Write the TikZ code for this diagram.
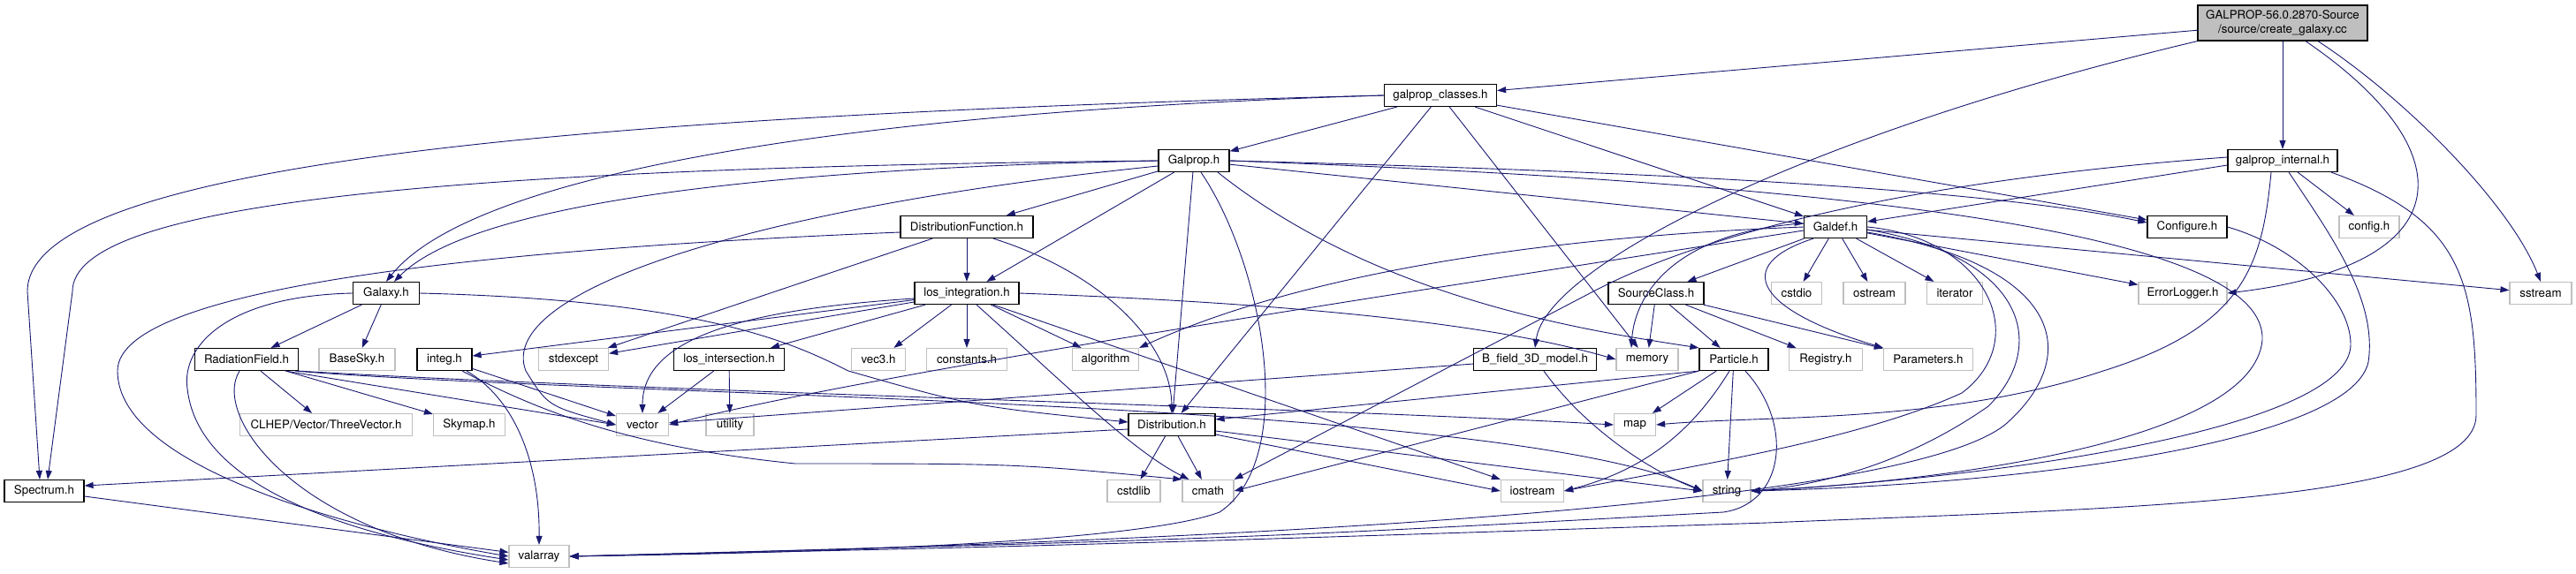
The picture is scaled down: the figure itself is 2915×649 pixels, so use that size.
\documentclass[tikz,border=0pt]{standalone}
\usepackage{fontspec}
\setmainfont{TeX Gyre Heros}
\usetikzlibrary{arrows.meta}
\definecolor{edgeblue}{RGB}{25,25,112}
\definecolor{sysgray}{RGB}{191,191,191}
\tikzset{
  hdr/.style={rectangle, draw=black, line width=1.2pt, minimum height=25pt,
    inner sep=0pt, font=\fontsize{13.3}{15.3}\selectfont},
  sys/.style={hdr, draw=sysgray},
  srcfile/.style={hdr, fill=sysgray, minimum height=40pt, align=center},
  dep/.style={-{Triangle[length=10pt,width=7pt]}, color=edgeblue, line width=0.9pt}
}

\begin{document}
\begin{tikzpicture}[x=1pt, y=-1pt]
  \useasboundingbox (0,0) rectangle (2915,649);

  % row 0-2
  \node[srcfile, minimum width=192pt] (root) at (2583,26) {GALPROP-56.0.2870-Source\\/source/create\_galaxy.cc};
  \node[hdr, minimum width=127pt] (gc) at (1630,108) {galprop\_classes.h};
  \node[hdr, minimum width=80pt] (gp) at (1351,182) {Galprop.h};
  \node[hdr, minimum width=124pt] (gi) at (2583,182) {galprop\_internal.h};
  \node[hdr, minimum width=150pt] (df) at (1094,257) {DistributionFunction.h};
  \node[hdr, minimum width=90pt] (cfg) at (2475,257) {Configure.h};
  \node[sys, minimum width=68pt] (cfgh) at (2681,257) {config.h};
  \node[hdr, minimum width=71pt] (gd) at (2077,257) {Galdef.h};

  % row 3
  \node[hdr, minimum width=75pt] (ga) at (437,332) {Galaxy.h};
  \node[hdr, minimum width=118pt] (li) at (1094,332) {los\_integration.h};
  \node[hdr, minimum width=108pt] (sc) at (1874,332) {SourceClass.h};
  \node[sys, minimum width=57pt] (cstdio) at (2033,332) {cstdio};
  \node[sys, minimum width=70pt] (ostream) at (2121,332) {ostream};
  \node[sys, minimum width=63pt] (iterator) at (2212,332) {iterator};
  \node[sys, minimum width=100pt] (el) at (2470,332) {ErrorLogger.h};
  \node[sys, minimum width=70pt] (sstream) at (2875,332) {sstream};

  % row 4
  \node[hdr, minimum width=117pt] (rf) at (279,407) {RadiationField.h};
  \node[sys, minimum width=86pt] (bs) at (404,407) {BaseSky.h};
  \node[hdr, minimum width=62pt] (ig) at (503,407) {integ.h};
  \node[sys, minimum width=79pt] (stdexcept) at (649,407) {stdexcept};
  \node[hdr, minimum width=125pt] (lx) at (825,407) {los\_intersection.h};
  \node[sys, minimum width=61pt] (vec3) at (994,407) {vec3.h};
  \node[sys, minimum width=91pt] (const) at (1094,407) {constants.h};
  \node[sys, minimum width=75pt] (algo) at (1251,407) {algorithm};
  \node[hdr, minimum width=139pt] (bf) at (1737,407) {B\_field\_3D\_model.h};
  \node[sys, minimum width=70pt] (mem) at (1864,407) {memory};
  \node[hdr, minimum width=78pt] (pa) at (1962,407) {Particle.h};
  \node[sys, minimum width=83pt] (reg) at (2066,407) {Registry.h};
  \node[sys, minimum width=101pt] (par) at (2182,407) {Parameters.h};

  % row 5
  \node[sys, minimum width=195pt] (clhep) at (369,481) {CLHEP/Vector/ThreeVector.h};
  \node[sys, minimum width=81pt] (sky) at (531,481) {Skymap.h};
  \node[sys, minimum width=59pt] (vec) at (727,481) {vector};
  \node[sys, minimum width=54pt] (util) at (826,481) {utility};
  \node[hdr, minimum width=98pt] (di) at (1326,481) {Distribution.h};
  \node[sys, minimum width=47pt] (map) at (1850,481) {map};

  % row 6-7
  \node[hdr, minimum width=90pt] (sp) at (50,556) {Spectrum.h};
  \node[sys, minimum width=60pt] (cstdlib) at (1283,556) {cstdlib};
  \node[sys, minimum width=58pt] (cmath) at (1367,556) {cmath};
  \node[sys, minimum width=71pt] (ios) at (1734,556) {iostream};
  \node[sys, minimum width=54pt] (str) at (1954,556) {string};
  \node[sys, minimum width=68pt] (va) at (610,630) {valarray};

  % create_galaxy.cc
  \draw[dep] (root) -- (gc);
  \draw[dep] (root.south west) .. controls (2050,150) and (1750,300) .. (bf.north);
  \draw[dep] (root) -- (gi);
  \draw[dep] ([xshift=26pt]root.south) .. controls (2790,170) and (2790,300) .. (el.east);
  \draw[dep] ([xshift=40pt]root.south) .. controls (2720,110) and (2840,230) .. (sstream.north);

  % galprop_classes.h
  \draw[dep] (gc) -- (gp);
  \draw[dep] (gc.west) .. controls (1000,125) and (540,190) .. (ga.north);
  \draw[dep] (gc.west) .. controls (700,130) and (31,180) .. (31,330) -- ([xshift=-5pt]sp.north);
  \draw[dep] (gc) -- (di);
  \draw[dep] (gc) -- (mem);
  \draw[dep] (gc) -- (gd);
  \draw[dep] (gc) -- (cfg);

  % Galprop.h
  \draw[dep] (gp.west) .. controls (900,190) and (540,225) .. ([xshift=9pt]ga.north);
  \draw[dep] (gp.west) .. controls (500,190) and (82,230) .. (82,330) -- ([xshift=4pt]sp.north);
  \draw[dep] (gp) -- (df);
  \draw[dep] (gp) -- (li);
  \draw[dep] ([yshift=-6pt]gp.west) .. controls (850,235) and (560,330) .. (595,420) .. controls (620,460) .. (vec.west);
  \draw[dep] (gp) -- (di);
  \draw[dep] ([xshift=8pt]gp.south) .. controls (1430,300) and (1470,520) .. (1380,580) .. controls (1300,610) and (1000,625) .. (va.east);
  \draw[dep] ([xshift=27pt]gp.south) .. controls (1560,340) and (1800,375) .. (pa.north west);
  \draw[dep] (gp) -- (gd);
  \draw[dep] (gp.east) .. controls (1900,195) and (2250,215) .. ([yshift=5pt]cfg.west);
  \draw[dep] (gp.east) .. controls (2150,210) and (2565,270) .. (2560,385) .. controls (2550,500) and (2200,545) .. (str.east);

  % galprop_internal.h
  \draw[dep] ([yshift=-5pt]gi.west) -- ([yshift=6pt]gd.east);
  \draw[dep] ([yshift=4pt]gi.west) .. controls (2150,205) and (1923,267) .. (1803,330) -- (cmath.north east);
  \draw[dep] (gi) -- (cfgh);
  \draw[dep] ([xshift=-13pt]gi.south) .. controls (2560,300) and (2540,370) .. (2380,420) .. controls (2200,480) and (2000,470) .. (map.east);
  \draw[dep] ([xshift=7pt]gi.south) .. controls (2640,270) and (2690,340) .. (2680,410) .. controls (2660,500) and (2300,548) .. (str.east);
  \draw[dep] ([xshift=55pt]gi.south) .. controls (2790,250) and (2802,320) .. (2802,470) .. controls (2802,570) and (2400,575) .. (2000,592) .. controls (1200,618) .. (va.east);

  % Configure.h
  \draw[dep] (cfg.east) .. controls (2600,280) and (2660,340) .. (2660,390) .. controls (2660,480) and (2300,538) .. (str.east);

  % Galdef.h
  \draw[dep] (gd) -- (sc);
  \draw[dep] (gd) -- (cstdio);
  \draw[dep] (gd) -- (ostream);
  \draw[dep] (gd) -- (iterator);
  \draw[dep] (gd) -- (el);
  \draw[dep] (gd) -- (sstream);
  \draw[dep] ([xshift=-25pt]gd.south) .. controls (1960,300) and (1985,350) .. (par.north west);
  \draw[dep] ([yshift=4pt]gd.west) .. controls (1900,262) and (1850,330) .. ([xshift=-18pt]mem.north);
  \draw[dep] (gd.west) .. controls (1700,270) and (1450,320) .. (algo.north east);
  \draw[dep] ([yshift=-4pt]gd.west) .. controls (1600,330) and (1000,420) .. (vec.east);
  \draw[dep] (gd.east) .. controls (2250,270) and (2300,385) .. (2220,445) .. controls (2100,500) and (1900,530) .. (ios.east);
  \draw[dep] ([yshift=-3pt]gd.east) .. controls (2290,290) and (2320,390) .. (2250,460) .. controls (2150,530) and (2050,550) .. (str.east);
  \draw[dep] ([yshift=-6pt]gd.east) .. controls (2330,300) and (2360,400) .. (2270,480) .. controls (2150,580) and (1300,615) .. (va.east);

  % SourceClass.h
  \draw[dep] (sc) -- (mem);
  \draw[dep] (sc) -- (pa);
  \draw[dep] (sc) -- (reg);
  \draw[dep] (sc) -- (par);

  % B_field_3D_model.h
  \draw[dep] (bf) -- (vec);
  \draw[dep] ([xshift=10pt]bf.south) .. controls (1790,480) and (1860,530) .. (str.west);

  % Particle.h
  \draw[dep] (pa) -- (map);
  \draw[dep] (pa) -- (str);
  \draw[dep] ([xshift=-5pt]pa.south) .. controls (1920,480) and (1870,530) .. (ios.east);
  \draw[dep] ([xshift=13pt]pa.south) .. controls (2030,480) and (2020,570) .. (1950,580) .. controls (1400,610) .. (va.east);
  \draw[dep] (pa.south west) -- ([yshift=6pt]di.east);
  \draw[dep] (pa.south west) -- (cmath.east);

  % Distribution.h
  \draw[dep] (di) -- (cstdlib);
  \draw[dep] (di) -- (cmath);
  \draw[dep] ([yshift=-5pt]di.west) -- ([yshift=6pt]sp.east);
  \draw[dep] ([yshift=-7pt]di.east) -- (str.west);
  \draw[dep] ([yshift=-11pt]di.east) -- (ios.west);

  % los_integration.h
  \draw[dep] (li) -- (ig);
  \draw[dep] (li) -- (stdexcept);
  \draw[dep] ([yshift=-6pt]li.west) .. controls (850,350) and (727,380) .. (vec.north);
  \draw[dep] (li) -- (lx);
  \draw[dep] (li) -- (vec3);
  \draw[dep] (li) -- (const);
  \draw[dep] (li) -- (algo);
  \draw[dep] ([xshift=11pt]li.south) .. controls (1200,430) and (1280,510) .. ([xshift=8pt]cmath.north west);
  \draw[dep] (li.east) .. controls (1500,345) and (1700,370) .. (mem.west);
  \draw[dep] ([xshift=30pt]li.south) -- (ios.north west);

  % DistributionFunction.h
  \draw[dep] (df) -- (li);
  \draw[dep] (df) -- (stdexcept);
  \draw[dep] ([xshift=30pt]df.south) .. controls (1250,310) and (1325,390) .. (di.north);
  \draw[dep] ([yshift=-6pt]df.west) .. controls (600,280) and (133,320) .. (133,420) .. controls (133,530) and (400,600) .. (va.west);

  % Galaxy.h
  \draw[dep] (ga) -- (rf);
  \draw[dep] (ga) -- (bs);
  \draw[dep] (ga.west) .. controls (260,335) and (205,390) .. (212,440) .. controls (225,560) and (420,610) .. ([yshift=-4pt]va.west);
  \draw[dep] (ga.east) .. controls (800,340) and (900,390) .. (960,420) .. controls (1100,460) .. ([yshift=3pt]di.west);

  % Spectrum.h
  \draw[dep] (sp) -- (va);

  % RadiationField.h
  \draw[dep] (rf) -- (clhep);
  \draw[dep] (rf) -- (sky);
  \draw[dep] ([xshift=-15pt]rf.south east) -- (vec.west);
  \draw[dep] (rf.south east) .. controls (700,442) and (1500,462) .. (map.west);
  \draw[dep] ([xshift=-4pt]rf.south east) .. controls (700,450) and (1700,452) .. (str.west);
  \draw[dep] ([xshift=-8pt]rf.south) .. controls (240,470) and (330,600) .. ([yshift=-8pt]va.west);

  % integ.h
  \draw[dep] (ig) -- (vec);
  \draw[dep] ([xshift=25pt]ig.south) .. controls (580,450) and (611,520) .. (va.north);
  \draw[dep] ([xshift=20pt]ig.south) .. controls (600,460) and (700,505) .. (900,525) .. controls (1150,525) .. (cmath.north west);

  % los_intersection.h
  \draw[dep] (lx) -- (vec);
  \draw[dep] (lx) -- (util);
\end{tikzpicture}
\end{document}
